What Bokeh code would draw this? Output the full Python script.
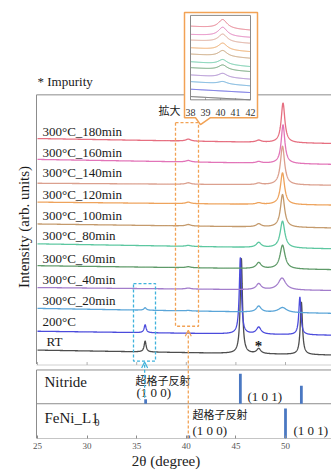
import numpy as np
from bokeh.plotting import figure
from bokeh.models import Range1d, Arrow, OpenHead
from bokeh.core.properties import value
from bokeh.embed import file_html
from bokeh.resources import INLINE

# ---------------- data ----------------
names = ["RT", "200°C", "300°C_20min", "300°C_40min", "300°C_60min", "300°C_80min",
         "300°C_100min", "300°C_120min", "300°C_140min", "300°C_160min", "300°C_180min"]
colors = ["#4d4d4d", "#4b4bdc", "#5aa5d8", "#a27ccb", "#5e9a68", "#5cc7a0",
          "#c49a6c", "#eea35c", "#dba08e", "#e274b8", "#e66f80"]
# baseline (arb. units) at 2theta = 24.9 and 54.6
base_left = [89, 108, 131, 152, 174, 196, 216, 238, 257, 281, 302]
base_right = [84, 104, 126, 149, 170, 191, 212, 235, 255, 276, 297]
# peaks per pattern: (2theta, height, half width)
peaks = [
    [(35.85, 11, 0.12), (45.55, 96, 0.13), (47.3, 5, 0.25), (51.6, 53, 0.13)],
    [(35.85, 8, 0.12), (45.45, 77, 0.13), (47.3, 7, 0.28), (51.45, 38, 0.13)],
    [(35.85, 2.5, 0.15), (40.2, 0.5, 0.3), (47.3, 6, 0.3), (49.7, 5, 0.5)],
    [(40.2, 1, 0.3), (47.3, 6, 0.3), (49.65, 12, 0.45)],
    [(40.2, 1, 0.3), (47.3, 6, 0.3), (49.7, 24, 0.3)],
    [(40.2, 1, 0.3), (47.3, 5, 0.3), (49.7, 27, 0.28)],
    [(40.2, 1.5, 0.3), (47.3, 3, 0.3), (49.7, 33, 0.25)],
    [(40.2, 1.5, 0.3), (47.3, 1.5, 0.3), (49.7, 32, 0.25)],
    [(40.2, 1.5, 0.3), (47.3, 1.5, 0.3), (49.7, 39, 0.25)],
    [(40.2, 1.5, 0.3), (47.3, 1.5, 0.3), (49.75, 39, 0.22)],
    [(40.2, 2, 0.3), (47.3, 2, 0.3), (49.75, 40, 0.22)],
]
# zoomed inset (38-42 deg): baseline at 38 and 42, peak height at 40.15
inset_left = [3.3, 10.7, 18.3, 25, 32.3, 38.3, 46, 52.3, 60, 65.7, 74]
inset_right = [0, 7.3, 14, 20.7, 28.3, 33.3, 41.7, 48.3, 56.7, 62.7, 70]
inset_peak = [0, 0, 2.5, 4, 5, 5, 6, 7, 8, 9, 9]
inset_center = 40.15

nitride_pos = [35.9, 45.45, 51.6]
nitride_int = [15, 100, 60]
feni_pos = [40.25, 50.0]
feni_int = [10, 100]

ticks = [25, 30, 35, 40, 45, 50, 55]
inset_ticks = [38, 39, 40, 41, 42]

# ---------------- layout helpers (reference pixel -> data) ----------------
def dx(X):
    return 25 + (X - 37) / 9.92

def dy(Y):
    return 441 - Y

FONT_SERIF = "'Liberation Serif', 'Times New Roman', serif"
SERIF = value(FONT_SERIF)
CJK = value("'Noto Sans CJK JP', sans-serif")
GRAY = "#8c8c8c"
ORANGE = "#f2a255"
CYAN = "#3fb2dc"
STICK = "#4a78c2"
INK = "#1a1a1a"

p = figure(width=331, height=471, x_range=Range1d(dx(0), dx(331)), y_range=Range1d(0, 441),
           output_backend="svg", toolbar_location=None, y_axis_location=None,
           min_border=0, outline_line_color=None)
p.xgrid.visible = False
p.ygrid.visible = False
p.background_fill_color = "white"

ax = p.xaxis[0]
ax.ticker = ticks
ax.axis_line_color = None
ax.major_tick_in = 3
ax.major_tick_out = 0
ax.major_tick_line_color = GRAY
ax.minor_tick_line_color = None
ax.major_label_text_font = FONT_SERIF
ax.major_label_text_font_size = "9px"
ax.major_label_text_color = "#555555"
ax.major_label_standoff = 4
ax.axis_label = "2θ (degree)"
ax.axis_label_text_font = FONT_SERIF
ax.axis_label_text_font_size = "15px"
ax.axis_label_text_font_style = "normal"
ax.axis_label_text_color = "#222222"
ax.axis_label_standoff = 1

xs = np.linspace(dx(37), dx(331), 1600)

# frames
xl = dx(36)
xr = dx(335)
p.segment(x0=[xl, xl, xl, xl, xl, xl], y0=[dy(95), dy(95), dy(372), dy(406), dy(441), dy(372)],
          x1=[xr, xl, xr, xr, xr, xl], y1=[dy(95), dy(366), dy(372), dy(406), dy(441), dy(441)],
          line_color=GRAY, line_width=1)
p.segment(x0=[xl], y0=[dy(367)], x1=[xr], y1=[dy(367)], line_color="#d0d0d0", line_width=1)
p.segment(x0=ticks, y0=[dy(367)] * len(ticks), x1=ticks, y1=[dy(364)] * len(ticks),
          line_color="#b0b0b0", line_width=1)

# patterns
x0, x1 = dx(37), dx(331)
for i in range(len(names)):
    ys = base_left[i] + (base_right[i] - base_left[i]) * (xs - x0) / (x1 - x0)
    for c, h, w in peaks[i]:
        ys = ys + h / (1 + ((xs - c) / w) ** 2)
    p.line(xs, ys, line_color=colors[i], line_width=1.3)

label_y = [343.3, 323.3, 301.7, 281, 259.3, 236.7, 216.7, 195.7, 173.3, 153.3, 131.7]
label_x = [dx(46)] + [dx(42)] * 10
p.text(x=label_x, y=[dy(v) for v in label_y], text=names, text_font=SERIF,
       text_font_size="13px", text_baseline="middle", text_align="left", text_color=INK)

p.text(x=[dx(37)], y=[dy(82)], text=["* Impurity"], text_font=SERIF, text_font_size="13px",
       text_baseline="middle", text_color=INK)
p.text(x=[dx(23.5)], y=[dy(228)], text=["Intensity (arb. units)"], text_font=SERIF,
       text_font_size="15px", text_baseline="middle", text_align="center", angle=np.pi / 2,
       text_color=INK)
p.text(x=[dx(258)], y=[dy(348)], text=["*"], text_font=SERIF, text_font_size="15px",
       text_baseline="middle", text_align="center", text_color=INK, text_font_style="bold")
p.text(x=[dx(158)], y=[dy(110)], text=["拡大"], text_font=CJK, text_font_size="11px",
       text_baseline="middle", text_color=INK)

# dashed boxes and arrows
p.quad(left=[dx(175)], right=[dx(198)], bottom=[dy(328)], top=[dy(123)], fill_color=None,
       line_color=ORANGE, line_dash="3 2", line_width=1.3)
p.quad(left=[dx(133)], right=[dx(155)], bottom=[dy(363)], top=[dy(285)], fill_color=None,
       line_color=CYAN, line_dash="3 2", line_width=1.3)
p.add_layout(Arrow(end=OpenHead(size=6, line_color=ORANGE, line_width=1.2),
                   x_start=feni_pos[0] - 0.05, y_start=dy(441), x_end=feni_pos[0] - 0.05, y_end=dy(332),
                   line_color=ORANGE, line_dash="3 2", line_width=1.3))
p.add_layout(Arrow(end=OpenHead(size=6, line_color=CYAN, line_width=1.2),
                   x_start=nitride_pos[0] - 0.1, y_start=dy(400), x_end=nitride_pos[0] - 0.1, y_end=dy(364),
                   line_color=CYAN, line_dash="3 2", line_width=1.3))

# reference panels
nit = p.subplot(x_source=Range1d(0, 1), y_source=Range1d(0, 113),
                x_target=Range1d(0, 1), y_target=Range1d(dy(406), dy(372)))
nit.vbar(x=nitride_pos, top=nitride_int, bottom=0, width=0.28, fill_color=STICK, line_color=None)
fen = p.subplot(x_source=Range1d(0, 1), y_source=Range1d(0, 113),
                x_target=Range1d(0, 1), y_target=Range1d(dy(441), dy(407)))
fen.vbar(x=feni_pos, top=feni_int, bottom=0, width=0.28, fill_color=STICK, line_color=None)

p.text(x=[dx(44)], y=[dy(384)], text=["Nitride"], text_font=SERIF, text_font_size="15px",
       text_baseline="middle", text_color=INK)
p.text(x=[dx(44)], y=[dy(420)], text=["FeNi_L1"], text_font=SERIF, text_font_size="15px",
       text_baseline="middle", text_color=INK)
p.text(x=[dx(94)], y=[dy(425)], text=["0"], text_font=SERIF, text_font_size="10px",
       text_baseline="middle", text_color=INK)
p.text(x=[dx(135), dx(192)], y=[dy(381.7), dy(416.7)], text=["超格子反射", "超格子反射"],
       text_font=CJK, text_font_size="11px", text_baseline="middle", text_color=INK)
p.text(x=[dx(136), dx(247), dx(192), dx(293)], y=[dy(395), dy(398.3), dy(432.7), dy(432.7)],
       text=["(1 0 0)", "(1 0 1)", "(1 0 0)", "(1 0 1)"], text_font=SERIF, text_font_size="13px",
       text_baseline="middle", text_color=INK)

# inset callout
bx0, bx1, by0, by1 = dx(184), dx(257), dy(118), dy(12)
p.patch(x=[bx0, bx1, bx1, dx(210), dx(200), dx(195), bx0],
        y=[by1, by1, by0, by0, dy(125), by0, by0],
        fill_color="white", line_color=ORANGE, line_width=1.5)

ins = p.subplot(x_source=Range1d(38, 42), y_source=Range1d(0, 85),
                x_target=Range1d(dx(190), dx(250)), y_target=Range1d(dy(100), dy(15)))
xi = np.linspace(38, 42, 300)
for i in range(len(names)):
    yi = inset_left[i] + (inset_right[i] - inset_left[i]) * (xi - 38) / 4
    yi = yi + inset_peak[i] / (1 + ((xi - inset_center) / 0.35) ** 2)
    ins.line(xi, yi, line_color=colors[i], line_width=1.0)
ins.segment(x0=[38, 38, 38, 42], y0=[0, 85, 0, 0], x1=[42, 42, 38, 42], y1=[0, 85, 85, 85],
            line_color="#8a8a8a", line_width=1)
ins.segment(x0=inset_ticks, y0=[0] * 5, x1=inset_ticks, y1=[1.5] * 5, line_color="#8a8a8a")
ins.text(x=inset_ticks, y=[-13] * 5, text=[str(t) for t in inset_ticks], text_font=SERIF,
         text_font_size="10px", text_baseline="middle", text_align="center", text_color="#333333")

open("out.html", "w").write(file_html(p, INLINE))
